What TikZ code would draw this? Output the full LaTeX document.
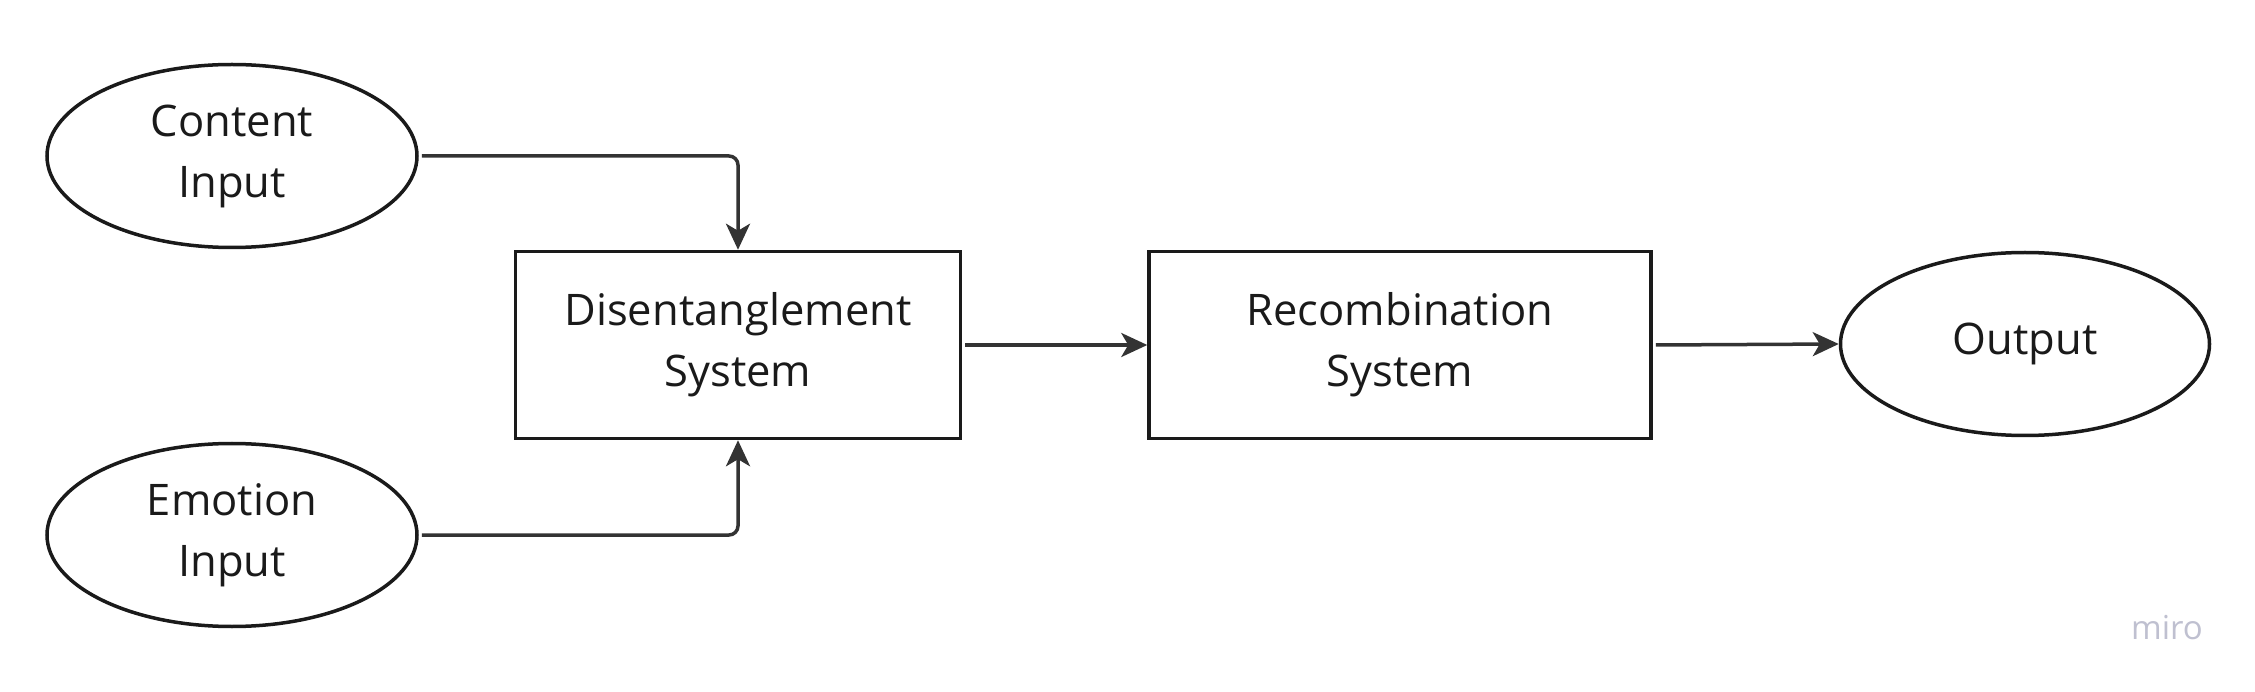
\documentclass[tikz,border=0pt]{standalone}
\usepackage{fontspec}
\setmainfont{Open Sans}
\usetikzlibrary{shapes.geometric,arrows.meta}
\definecolor{ink}{HTML}{1A1A1A}
\definecolor{conncol}{HTML}{333333}
\definecolor{mirocol}{HTML}{BFC0D0}
\tikzset{
  base/.style={draw=ink, line width=3.5pt, text=ink, align=center, inner sep=0pt,
    font=\fontsize{43.5}{61}\selectfont},
  oval/.style={base, ellipse, minimum width=370pt, minimum height=183pt},
  boxnode/.style={base, rectangle, minimum width=445pt, minimum height=187pt},
  conn/.style={draw=conncol, line width=3.5pt, rounded corners=9pt,
    -{Stealth[length=26pt, width=24pt, inset=7pt]}}
}
\begin{document}
\begin{tikzpicture}[x=1pt, y=-1pt]
\useasboundingbox (0,0) rectangle (2255,692);
\node[oval] (ci) at (232,156) {Content\\Input};
\node[oval] (ei) at (232,535) {Emotion\\Input};
\node[boxnode] (ds) at (738,345) {Disentanglement\\System};
\node[boxnode, minimum width=502pt] (rs) at (1400,345) {Recombination\\System};
\node[oval, minimum width=369pt] (out) at (2025,344) {Output};
\node[text=mirocol, font=\fontsize{33}{33}\selectfont, inner sep=0pt] (miro) at (2167,628) {miro};
\draw[conn] ([xshift=3pt]ci.east) -- (ci.east -| ds.north) -- (ds.north);
\draw[conn] ([xshift=3pt]ei.east) -- (ei.east -| ds.south) -- (ds.south);
\draw[conn] ([xshift=3pt]ds.east) -- (rs.west);
\draw[conn] ([xshift=3pt]rs.east) -- (out.west);
\end{tikzpicture}
\end{document}
